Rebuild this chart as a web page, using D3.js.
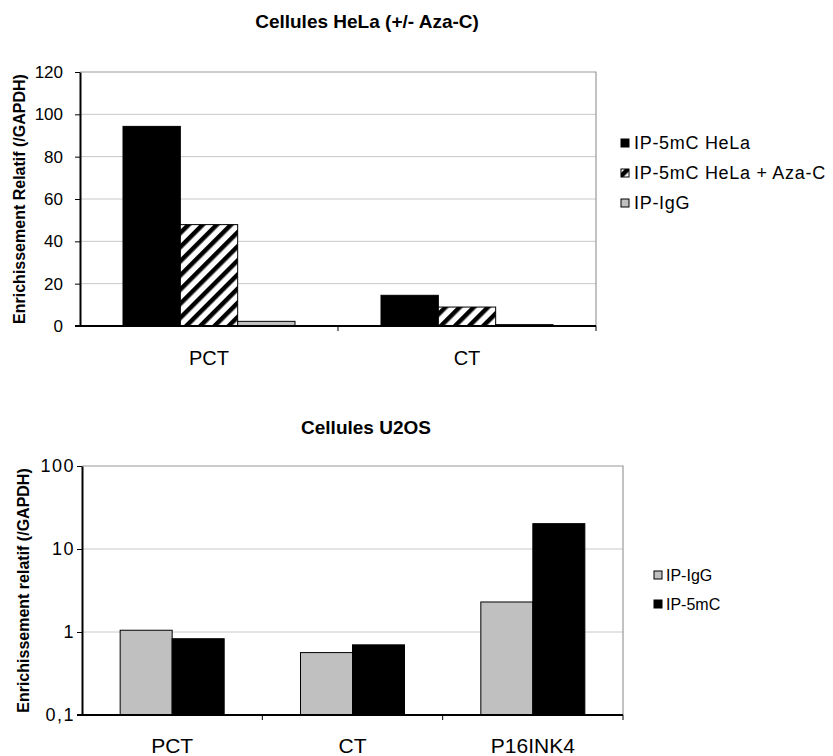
<!DOCTYPE html>
<html>
<head>
<meta charset="utf-8">
<script src="https://cdn.jsdelivr.net/npm/d3@7"></script>
<style>
  body { margin: 0; background: #fff; }
  text { font-family: "Liberation Sans", Arial, sans-serif; fill: #000; }
</style>
</head>
<body>
<div id="chart"></div>
<script>
// HeLa chart data
var helaCats = ["PCT", "CT"];
var helaSeries = ["IP-5mC HeLa", "IP-5mC HeLa + Aza-C", "IP-IgG"];
var hela5mC = [94.3, 14.5];
var helaAza = [47.9, 8.95];
var helaIgG = [2.2, 0.65];
var helaTicks = [0, 20, 40, 60, 80, 100, 120];

// U2OS chart data
var u2osCats = ["PCT", "CT", "P16INK4"];
var u2osSeries = ["IP-IgG", "IP-5mC"];
var u2osIgG = [1.05, 0.565, 2.3];
var u2os5mC = [0.83, 0.70, 20.2];
var u2osTicks = [0.1, 1, 10, 100];
var u2osTickLabels = ["0,1", "1", "10", "100"];

var width = 833, height = 756;

var svg = d3.select("#chart").append("svg")
    .attr("width", width)
    .attr("height", height);

var defs = svg.append("defs");
var hatch = defs.append("pattern")
    .attr("id", "hatch")
    .attr("patternUnits", "userSpaceOnUse")
    .attr("width", 10)
    .attr("height", 10)
    .attr("patternTransform", "rotate(45)");
hatch.append("rect").attr("width", 10).attr("height", 10).attr("fill", "#fff");
hatch.append("rect").attr("width", 4.5).attr("height", 10).attr("fill", "#000");

var fills = {
  "IP-5mC HeLa": "#000",
  "IP-5mC HeLa + Aza-C": "url(#hatch)",
  "IP-IgG": "#c0c0c0",
  "IP-5mC": "#000"
};

function drawChart(o) {
  var g = svg.append("g");
  var x = d3.scaleBand().domain(o.cats).range([o.left, o.right]);
  var groupW = x.bandwidth() * o.groupFrac;
  var xs = d3.scaleBand().domain(o.series.map(function(s){ return s.name; })).range([0, groupW]);
  var y = o.y;

  // gridlines
  g.selectAll(".grid")
    .data(o.ticks.slice(1, -1))
    .enter().append("line")
      .attr("x1", o.left).attr("x2", o.right)
      .attr("y1", function(d){ return y(d); })
      .attr("y2", function(d){ return y(d); })
      .attr("stroke", "#c8c8c8").attr("stroke-width", 1);

  // frame top + right
  g.append("path")
    .attr("d", "M" + o.left + "," + y(o.ticks[o.ticks.length-1]) + "H" + o.right + "V" + o.bottom)
    .attr("fill", "none").attr("stroke", "#9a9a9a").attr("stroke-width", 1.2);

  // bars
  var ser = g.selectAll(".series")
    .data(o.series)
    .enter().append("g");
  ser.selectAll("rect")
    .data(function(s){ return s.values.map(function(v, i){ return {name: s.name, cat: o.cats[i], v: v}; }); })
    .enter().append("rect")
      .attr("x", function(d){ return x(d.cat) + (x.bandwidth() - groupW) / 2 + xs(d.name); })
      .attr("width", xs.bandwidth())
      .attr("y", function(d){ return y(d.v); })
      .attr("height", function(d){ return o.bottom - y(d.v); })
      .attr("fill", function(d){ return fills[d.name]; })
      .attr("stroke", "#000").attr("stroke-width", 1);

  // y axis
  var yAxis = g.append("g")
    .attr("transform", "translate(" + o.left + ",0)")
    .call(d3.axisLeft(y).tickValues(o.ticks).tickSize(5).tickSizeOuter(0)
      .tickPadding(o.yPad).tickFormat(function(d, i){ return o.tickLabels[i]; }));
  yAxis.select(".domain").attr("stroke", "#000").attr("stroke-width", 2);
  yAxis.selectAll("text").attr("font-size", o.yFont).attr("font-family", "Liberation Sans, Arial")
    .attr("letter-spacing", o.yLs || 0);

  // x axis line + boundary ticks
  g.append("line")
    .attr("x1", o.left - 5).attr("x2", o.right)
    .attr("y1", o.bottom).attr("y2", o.bottom)
    .attr("stroke", "#000").attr("stroke-width", 2);
  var bounds = o.cats.slice(1).map(function(c){ return x(c); }).concat([o.right]);
  g.selectAll(".xtick")
    .data(bounds)
    .enter().append("line")
      .attr("x1", function(d){ return d; }).attr("x2", function(d){ return d; })
      .attr("y1", o.bottom).attr("y2", o.bottom + 5)
      .attr("stroke", "#000").attr("stroke-width", 1);
  var xAxis = g.append("g")
    .attr("transform", "translate(0," + o.bottom + ")")
    .call(d3.axisBottom(x).tickSize(0).tickPadding(o.xPad));
  xAxis.select(".domain").remove();
  xAxis.selectAll("text").attr("font-size", o.xFont).attr("font-family", "Liberation Sans, Arial");

  // y title
  g.append("text")
    .attr("transform", "translate(" + o.yTitleX + "," + ((o.bottom + y(o.ticks[o.ticks.length-1])) / 2) + ") rotate(-90)")
    .attr("text-anchor", "middle")
    .attr("font-size", 16).attr("font-weight", "bold")
    .text(o.yTitle);

  // chart title
  g.append("text")
    .attr("x", o.titleX).attr("y", o.titleY)
    .attr("text-anchor", "middle")
    .attr("font-size", 19).attr("font-weight", "bold")
    .text(o.title);

  // legend
  var leg = g.selectAll(".leg")
    .data(o.series)
    .enter().append("g")
      .attr("transform", function(d, i){ return "translate(" + o.legX + "," + (o.legY + i * o.legStep) + ")"; });
  leg.append("rect")
    .attr("x", 0).attr("y", -4).attr("width", 8).attr("height", 8)
    .attr("fill", function(d){ return fills[d.name]; })
    .attr("stroke", "#000").attr("stroke-width", 1);
  leg.append("text")
    .attr("x", o.legTextDx).attr("y", 0).attr("dy", "0.36em")
    .attr("font-size", o.legFont)
    .attr("letter-spacing", o.legLs || 0)
    .text(function(d){ return d.name; });
}

drawChart({
  cats: helaCats,
  series: [
    {name: helaSeries[0], values: hela5mC},
    {name: helaSeries[1], values: helaAza},
    {name: helaSeries[2], values: helaIgG}
  ],
  left: 80, right: 596, bottom: 326,
  y: d3.scaleLinear().domain([0, 120]).range([326, 72]),
  ticks: helaTicks,
  tickLabels: helaTicks.map(String),
  groupFrac: 2 / 3,
  yPad: 12, yFont: 17,
  xPad: 25, xFont: 20,
  yTitle: "Enrichissement Relatif  (/GAPDH)", yTitleX: 25,
  title: "Cellules HeLa (+/-  Aza-C)", titleX: 367, titleY: 28,
  legX: 621, legY: 143, legStep: 30, legTextDx: 13, legFont: 18, legLs: 0.7
});

drawChart({
  cats: u2osCats,
  series: [
    {name: u2osSeries[0], values: u2osIgG},
    {name: u2osSeries[1], values: u2os5mC}
  ],
  left: 82, right: 623, bottom: 715,
  y: d3.scaleLog().domain([0.1, 100]).range([715, 466]),
  ticks: u2osTicks,
  tickLabels: u2osTickLabels,
  groupFrac: 104 / 180.3,
  yPad: 2, yFont: 18, yLs: 1.5,
  xPad: 23, xFont: 21,
  yTitle: "Enrichissement relatif (/GAPDH)", yTitleX: 29,
  title: "Cellules U2OS", titleX: 366, titleY: 434,
  legX: 654, legY: 575, legStep: 29, legTextDx: 12, legFont: 16
});
</script>
</body>
</html>
